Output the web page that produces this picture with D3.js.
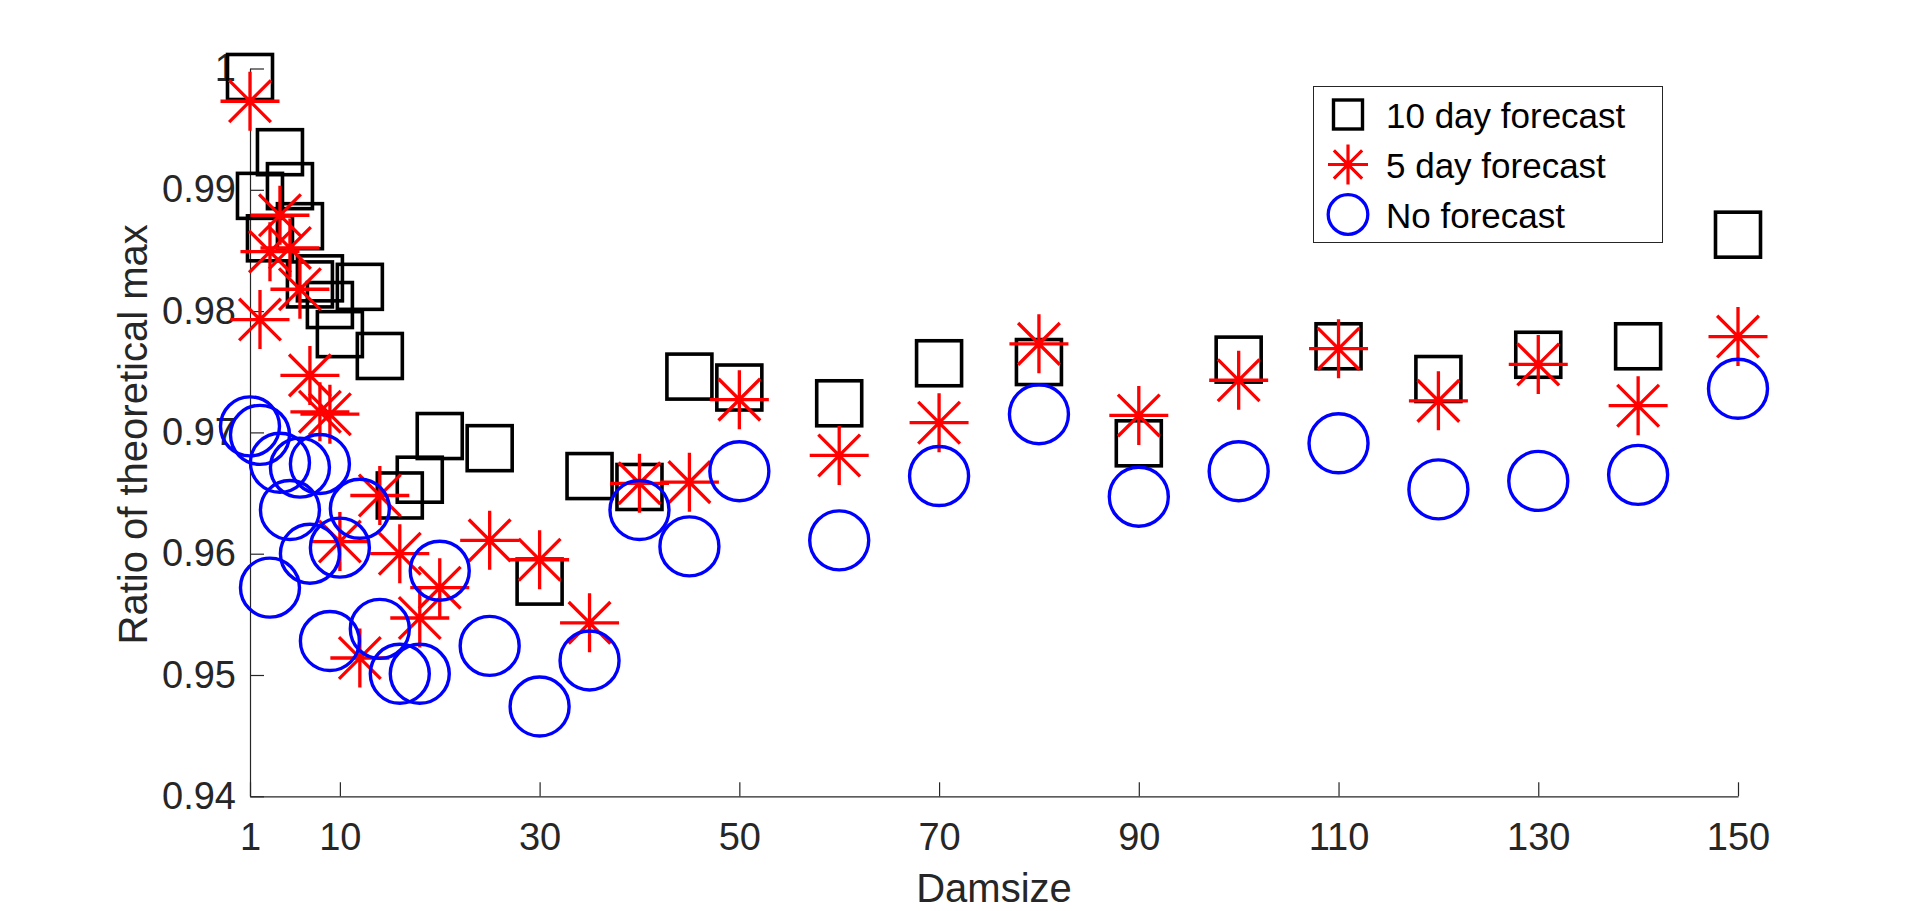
<!DOCTYPE html>
<html>
<head>
<meta charset="utf-8">
<script src="https://cdn.jsdelivr.net/npm/d3@7"></script>
<style>
	body { margin: 0; background: #fff; }
	svg { display: block; }
	.tick text, .axis-label { font-family: 'Liberation Sans', Arial, sans-serif; fill: #262626; }
</style>
</head>
<body>
<div id="chart"></div>
<script>
// dam sizes on the x axis
const damsize = [1, 2, 3, 4, 5, 6, 7, 8, 9, 10, 12, 14, 16, 18, 20, 25, 30, 35, 40, 45, 50, 60, 70, 80, 90, 100, 110, 120, 130, 140, 150];

// ratio of theoretical max, one value per dam size
const tenDay = [0.9993, 0.9895, 0.9860, 0.9931, 0.9903, 0.9870, 0.9822, 0.9827, 0.9805, 0.9781, 0.9820, 0.9763, 0.9648, 0.9661, 0.9697, 0.9687, 0.9577, 0.9664, 0.9655, 0.9746, 0.9737, 0.9724, 0.9757, 0.9758, 0.9691, 0.9760, 0.9771, 0.9744, 0.9764, 0.9771, 0.9863];
const fiveDay = [0.9973, 0.9793, 0.9849, 0.9879, 0.9852, 0.9818, 0.9747, 0.9717, 0.9715, 0.9610, 0.9514, 0.9648, 0.9600, 0.9547, 0.9572, 0.9611, 0.9595, 0.9543, 0.9658, 0.9659, 0.9727, 0.9681, 0.9708, 0.9773, 0.9714, 0.9743, 0.9769, 0.9726, 0.9756, 0.9722, 0.9779];
const noForecast = [0.9705, 0.9698, 0.9572, 0.9675, 0.9636, 0.9671, 0.9600, 0.9674, 0.9528, 0.9605, 0.9637, 0.9538, 0.9501, 0.9501, 0.9586, 0.9524, 0.9474, 0.9512, 0.9636, 0.9606, 0.9668, 0.9611, 0.9664, 0.9715, 0.9647, 0.9668, 0.9691, 0.9653, 0.9660, 0.9665, 0.9736];

const xTicks = [1, 10, 30, 50, 70, 90, 110, 130, 150];
const yTicks = [0.94, 0.95, 0.96, 0.97, 0.98, 0.99, 1];
const legendLabels = ['10 day forecast', '5 day forecast', 'No forecast'];

const width = 1920;
const height = 911;
const margin = { left: 250, right: 182, top: 68.5, bottom: 114.7 };
const font = "'Liberation Sans', Arial, sans-serif";

const x = d3.scaleLinear().domain([1, 150]).range([margin.left, width - margin.right]);
const y = d3.scaleLinear().domain([0.94, 1]).range([height - margin.bottom, margin.top]);

const svg = d3.select('#chart')
	.append('svg')
	.attr('width', width)
	.attr('height', height);

// path for an 8 armed star marker
function starPath(r) {
	const d = r * Math.SQRT1_2;
	return `M${-r},0H${r}M0,${-r}V${r}M${-d},${-d}L${d},${d}M${-d},${d}L${d},${-d}`;
}

// draws the x and y axes with inward ticks, no box
function renderAxes() {
	const xAxis = d3.axisBottom(x)
		.tickValues(xTicks)
		.tickFormat(d3.format('d'))
		.tickSizeInner(-14)
		.tickSizeOuter(0)
		.tickPadding(26.5);
	const yAxis = d3.axisLeft(y)
		.tickValues(yTicks)
		.tickFormat(d => (d === 1 ? '1' : d3.format('.2f')(d)))
		.tickSizeInner(-14)
		.tickSizeOuter(0)
		.tickPadding(14);

	const gx = svg.append('g')
		.attr('transform', `translate(0,${y(0.94)})`)
		.call(xAxis);
	const gy = svg.append('g')
		.attr('transform', `translate(${x(1)},0)`)
		.call(yAxis);

	[gx, gy].forEach(g => {
		g.selectAll('path, line').attr('stroke', '#262626').attr('stroke-width', 1.2);
		g.selectAll('text').attr('font-size', 38).attr('font-family', font).attr('fill', '#262626');
	});

	svg.append('text')
		.attr('class', 'axis-label')
		.attr('x', (x(1) + x(150)) / 2)
		.attr('y', 901.5)
		.attr('text-anchor', 'middle')
		.attr('font-size', 40)
		.text('Damsize');

	svg.append('text')
		.attr('class', 'axis-label')
		.attr('transform', `translate(147,${(y(0.94) + y(1)) / 2 + 2}) rotate(-90)`)
		.attr('text-anchor', 'middle')
		.attr('font-size', 40)
		.text('Ratio of theoretical max');
}

// squares, then stars, then circles, in plot order
function renderMarkers() {
	const side = 45;
	svg.append('g')
		.selectAll('rect')
		.data(tenDay)
		.enter()
		.append('rect')
		.attr('x', (d, i) => x(damsize[i]) - side / 2)
		.attr('y', d => y(d) - side / 2)
		.attr('width', side)
		.attr('height', side)
		.attr('fill', 'none')
		.attr('stroke', '#000')
		.attr('stroke-width', 3.6);

	svg.append('g')
		.selectAll('path')
		.data(fiveDay)
		.enter()
		.append('path')
		.attr('transform', (d, i) => `translate(${x(damsize[i])},${y(d)})`)
		.attr('d', starPath(29.5))
		.attr('fill', 'none')
		.attr('stroke', '#ff0000')
		.attr('stroke-width', 3.3);

	svg.append('g')
		.selectAll('circle')
		.data(noForecast)
		.enter()
		.append('circle')
		.attr('cx', (d, i) => x(damsize[i]))
		.attr('cy', d => y(d))
		.attr('r', 29.5)
		.attr('fill', 'none')
		.attr('stroke', '#0000ff')
		.attr('stroke-width', 3.4);
}

// legend box in the upper right
function renderLegend() {
	const lg = svg.append('g').attr('class', 'g-legend');
	lg.append('rect')
		.attr('x', 1313.5)
		.attr('y', 86.5)
		.attr('width', 349)
		.attr('height', 156)
		.attr('fill', '#fff')
		.attr('stroke', '#262626')
		.attr('stroke-width', 1);

	const rows = lg.selectAll('g.row')
		.data(legendLabels)
		.enter()
		.append('g')
		.attr('class', 'row')
		.attr('transform', (d, i) => `translate(1348,${114.5 + 50 * i})`);

	rows.filter((d, i) => i === 0)
		.append('rect')
		.attr('x', -14.5)
		.attr('y', -14.5)
		.attr('width', 29)
		.attr('height', 29)
		.attr('fill', 'none')
		.attr('stroke', '#000')
		.attr('stroke-width', 3.4);
	rows.filter((d, i) => i === 1)
		.append('path')
		.attr('d', starPath(20))
		.attr('stroke', '#ff0000')
		.attr('stroke-width', 3.2);
	rows.filter((d, i) => i === 2)
		.append('circle')
		.attr('r', 19.8)
		.attr('fill', 'none')
		.attr('stroke', '#0000ff')
		.attr('stroke-width', 3.3);

	rows.append('text')
		.attr('x', 38)
		.attr('y', 13)
		.attr('font-family', font)
		.attr('font-size', 35)
		.attr('fill', '#000')
		.text(d => d);
}

renderAxes();
renderMarkers();
renderLegend();
</script>
</body>
</html>
